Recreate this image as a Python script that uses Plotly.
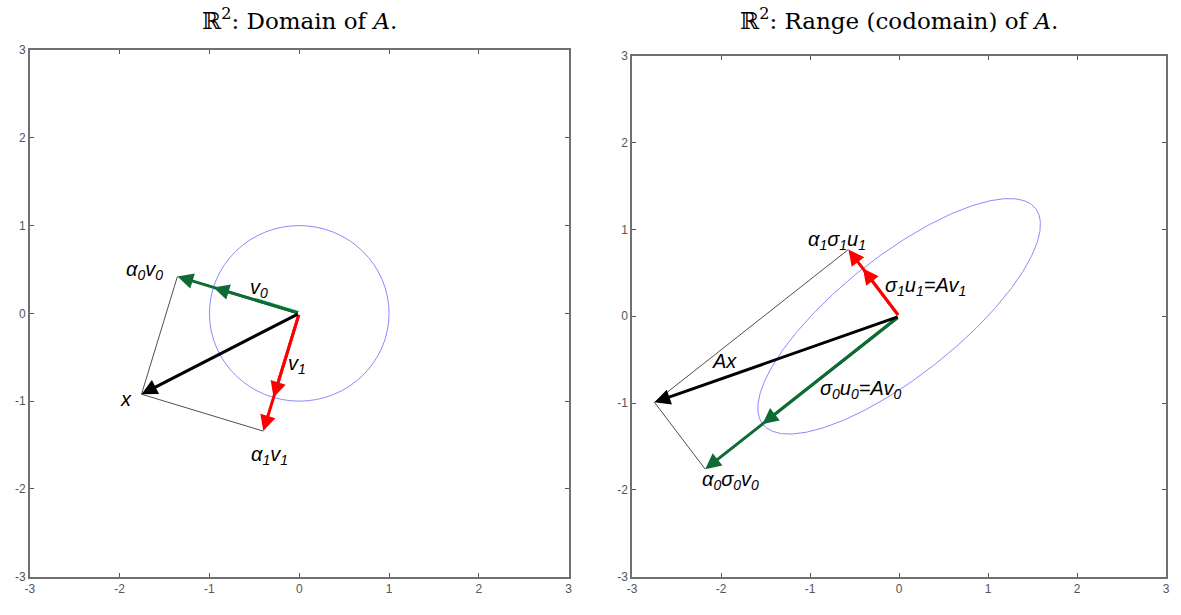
import numpy as np
import plotly.graph_objects as go

# ---------------- data ----------------
tick_vals = [-3, -2, -1, 0, 1, 2, 3]
tick_text = ["-3", "-2", "-1", "0", "1", "2", "3"]

v0 = [-0.955, 0.296]          # right singular vector 0
v1 = [-0.286, -0.958]         # right singular vector 1
alpha = [1.42, 1.40]          # coordinates of x in basis v0, v1
Av0 = [-1.535, -1.24]         # sigma0 u0 = A v0
Av1 = [-0.407, 0.55]          # sigma1 u1 = A v1
circle_radius = 1.0

titles = ["ℝ<sup>2</sup>: Domain of <i>A</i>.", "ℝ<sup>2</sup>: Range (codomain) of <i>A</i>."]

# derived points
a0v0 = [alpha[0] * v0[0], alpha[0] * v0[1]]
a1v1 = [alpha[1] * v1[0], alpha[1] * v1[1]]
xvec = [a0v0[0] + a1v1[0], a0v0[1] + a1v1[1]]
a0s0u0 = [alpha[0] * Av0[0], alpha[0] * Av0[1]]
a1s1u1 = [alpha[1] * Av1[0], alpha[1] * Av1[1]]
Ax = [a0s0u0[0] + a1s1u1[0], a0s0u0[1] + a1s1u1[1]]

GREEN = "#0f6b35"
RED = "#ff0000"
BLUE = "#8a8aff"
W, H = 1181, 615

fig = go.Figure()

# ellipse = image of the unit circle under A
t = np.linspace(0, 2 * np.pi, 400)
ex = Av0[0] * np.cos(t) + Av1[0] * np.sin(t)
ey = Av0[1] * np.cos(t) + Av1[1] * np.sin(t)
fig.add_trace(go.Scatter(x=ex, y=ey, mode="lines", line=dict(color=BLUE, width=1),
                         xaxis="x2", yaxis="y2", hoverinfo="skip"))

# thin parallelogram lines
fig.add_trace(go.Scatter(x=[a0v0[0], xvec[0], a1v1[0]], y=[a0v0[1], xvec[1], a1v1[1]],
                         mode="lines", line=dict(color="#222", width=0.8), hoverinfo="skip"))
fig.add_trace(go.Scatter(x=[a1s1u1[0], Ax[0], a0s0u0[0]], y=[a1s1u1[1], Ax[1], a0s0u0[1]],
                         mode="lines", line=dict(color="#222", width=0.8),
                         xaxis="x2", yaxis="y2", hoverinfo="skip"))

shapes = [dict(type="circle", xref="x", yref="y", x0=-circle_radius, y0=-circle_radius,
               x1=circle_radius, y1=circle_radius, line=dict(color=BLUE, width=1))]

ann = []


def arrow(tip, tail, color, xr, yr, width=3):
    ann.append(dict(x=tip[0], y=tip[1], ax=tail[0], ay=tail[1], xref=xr, yref=yr,
                    axref=xr, ayref=yr, text="", showarrow=True, arrowhead=2,
                    arrowsize=1.05, arrowwidth=width, arrowcolor=color, standoff=0))


# left plot arrows
arrow(a0v0, [0, 0], GREEN, "x", "y")
arrow(v0, [0, 0], GREEN, "x", "y")
arrow(a1v1, [0, 0], RED, "x", "y")
arrow(v1, [0, 0], RED, "x", "y")
arrow(xvec, [0, 0], "black", "x", "y")
# right plot arrows
arrow(a1s1u1, [0, 0], RED, "x2", "y2")
arrow(Av1, [0, 0], RED, "x2", "y2")
arrow(a0s0u0, [0, 0], GREEN, "x2", "y2")
arrow(Av0, [0, 0], GREEN, "x2", "y2")
arrow(Ax, [0, 0], "black", "x2", "y2")

# light green highlight on v0 near origin
fig.add_trace(go.Scatter(x=[0, 0.5 * v0[0]], y=[0.02, 0.5 * v0[1] + 0.02], mode="lines",
                         line=dict(color="#5fe39a", width=1.5), hoverinfo="skip"))

LF = dict(family="Liberation Sans, Arial, sans-serif", size=20, color="black")


def label(x, y, txt, xr, yr):
    ann.append(dict(x=x, y=y, xref=xr, yref=yr, text=txt, showarrow=False, font=LF))


label(-1.72, 0.49, "<i>α<sub>0</sub>v<sub>0</sub></i>", "x", "y")
label(-0.45, 0.28, "<i>v<sub>0</sub></i>", "x", "y")
label(-0.02, -0.58, "<i>v<sub>1</sub></i>", "x", "y")
label(-1.93, -0.98, "<i>x</i>", "x", "y")
label(-0.33, -1.62, "<i>α<sub>1</sub>v<sub>1</sub></i>", "x", "y")

label(-0.70, 0.87, "<i>α<sub>1</sub>σ<sub>1</sub>u<sub>1</sub></i>", "x2", "y2")
label(0.30, 0.34, "<i>σ<sub>1</sub>u<sub>1</sub>=Av<sub>1</sub></i>", "x2", "y2")
label(-1.96, -0.51, "<i>Ax</i>", "x2", "y2")
label(-0.43, -0.84, "<i>σ<sub>0</sub>u<sub>0</sub>=Av<sub>0</sub></i>", "x2", "y2")
label(-1.90, -1.89, "<i>α<sub>0</sub>σ<sub>0</sub>v<sub>0</sub></i>", "x2", "y2")

# titles
TF = dict(family="DejaVu Serif, Liberation Serif, serif", size=23, color="black")
ann.append(dict(x=(25 + 568) / 2 / W, y=1 - 12 / H, xref="paper", yref="paper", text=titles[0],
                showarrow=False, font=TF, xanchor="center", yanchor="middle"))
ann.append(dict(x=(632 + 1170) / 2 / W, y=1 - 12 / H, xref="paper", yref="paper", text=titles[1],
                showarrow=False, font=TF, xanchor="center", yanchor="middle"))

axis_common = dict(range=[-3, 3], tickvals=tick_vals, ticktext=tick_text, showgrid=False,
                   zeroline=False, showline=True, linecolor="#707070", linewidth=1.5,
                   mirror="ticks", ticks="inside", ticklen=4, tickcolor="#555", tickwidth=1,
                   tickfont=dict(family="Liberation Sans, Arial, sans-serif", size=12, color="#555"),
                   fixedrange=True)

fig.update_layout(
    width=W, height=H, margin=dict(l=0, r=0, t=0, b=0),
    paper_bgcolor="white", plot_bgcolor="white", showlegend=False,
    xaxis=dict(domain=[25 / W, 568 / W], anchor="y", **axis_common),
    yaxis=dict(domain=[(H - 583) / H, (H - 44) / H], anchor="x", **axis_common),
    xaxis2=dict(domain=[632 / W, 1170 / W], anchor="y2", **axis_common),
    yaxis2=dict(domain=[(H - 583) / H, (H - 50) / H], anchor="x2", **axis_common),
    shapes=shapes, annotations=ann,
)

fig.write_html("out.html")
